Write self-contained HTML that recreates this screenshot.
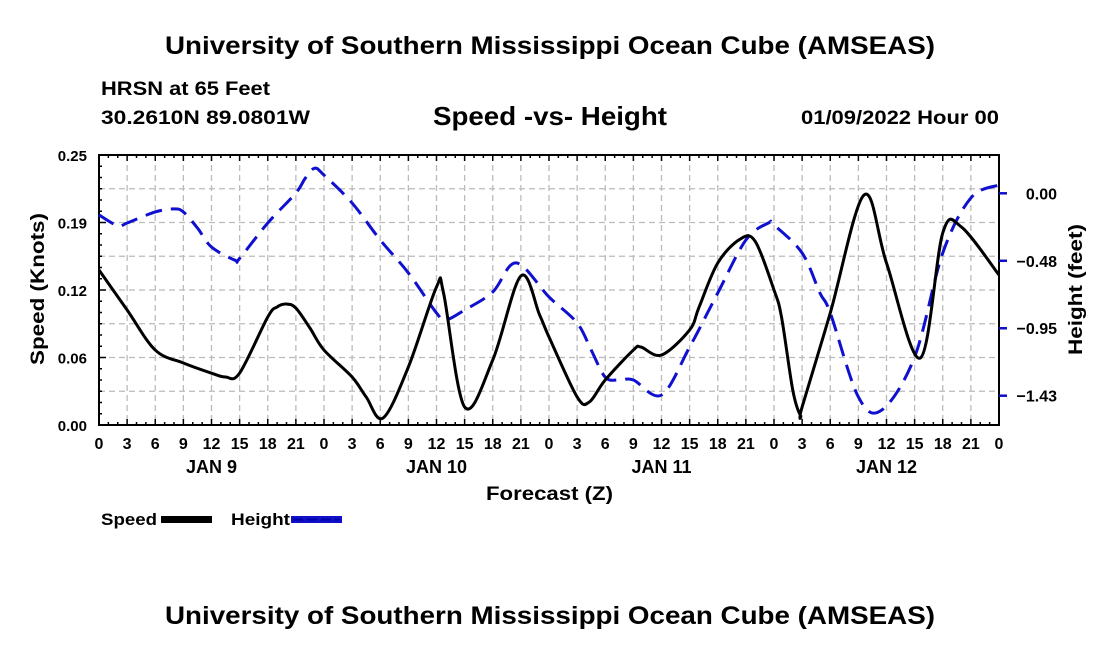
<!DOCTYPE html>
<html><head><meta charset="utf-8"><style>
body{margin:0;background:#fff;}
svg text{font-family:"Liberation Sans",Arial,sans-serif;font-weight:bold;fill:#000;}
</style></head><body>
<svg id="chart" width="1100" height="650" viewBox="0 0 1100 650" xmlns="http://www.w3.org/2000/svg">
<rect width="1100" height="650" fill="#fff"/>
<text x="165" y="54" font-size="25" textLength="770" lengthAdjust="spacingAndGlyphs">University of Southern Mississippi Ocean Cube (AMSEAS)</text>
<text x="101" y="95" font-size="19" textLength="169" lengthAdjust="spacingAndGlyphs">HRSN at 65 Feet</text>
<text x="101" y="124" font-size="19" textLength="209" lengthAdjust="spacingAndGlyphs">30.2610N  89.0801W</text>
<text x="433" y="125" font-size="26" textLength="234" lengthAdjust="spacingAndGlyphs">Speed -vs- Height</text>
<text x="801" y="124" font-size="19" textLength="198" lengthAdjust="spacingAndGlyphs">01/09/2022 Hour 00</text>
<g id="grid"></g>
<g id="axes"></g>
<g id="series"></g>
<text transform="translate(44,365) rotate(-90)" font-size="19" textLength="152" lengthAdjust="spacingAndGlyphs">Speed (Knots)</text>
<text transform="translate(1082,355) rotate(-90)" font-size="19" textLength="131" lengthAdjust="spacingAndGlyphs">Height (feet)</text>
<text x="486" y="500" font-size="19" textLength="127" lengthAdjust="spacingAndGlyphs">Forecast (Z)</text>
<g>
<text x="101" y="525" font-size="17" textLength="56" lengthAdjust="spacingAndGlyphs">Speed</text>
<rect x="161" y="516" width="51" height="7" fill="#000"/>
<text x="231" y="525" font-size="17" textLength="59" lengthAdjust="spacingAndGlyphs">Height</text>
<rect x="291" y="516" width="51" height="7" fill="#1010c8"/>
<line x1="293" y1="519.5" x2="340" y2="519.5" stroke="#0000aa" stroke-width="2" stroke-dasharray="10,4"/>
</g>
<text x="165" y="624" font-size="25" textLength="770" lengthAdjust="spacingAndGlyphs">University of Southern Mississippi Ocean Cube (AMSEAS)</text>
</svg>
<script>
const speedHours=[0,3,6,9,12,13.5,15,18,19,20,21,22.5,24,27,28.5,30.3,33,36,36.75,39,42,45,47,48,51,52.3,54,57,57.8,60,63,64,66,68.4,70,72,72.8,74,74.8,75,78,81.6,84,87.6,90,92,96];
const speedValues=[.1435,.1065,.0694,.0574,.048,.0444,.0481,.100,.1093,.1120,.1083,.0898,.0694,.0444,.0259,.0065,.0537,.1278,.1222,.0167,.0602,.138,.1019,.0815,.026,.0213,.0417,.0694,.0722,.0648,.088,.109,.150,.1722,.170,.125,.100,.0324,.0093,.0167,.1037,.2130,.150,.062,.1778,.1833,.1389];
const heightHours=[0,2,3,6,8,9,10.5,12,14.5,15,18,21,22,23,24,27,30,33,36,37,39,42,44.5,48,51,52.5,54,55.5,57,60,63,66,69,71.4,72,75,76.9,78,81,83.5,87,90,93,96];
const heightValues=[-0.153,-0.23,-0.21,-0.132,-0.11,-0.132,-0.245,-0.38,-0.473,-0.46,-0.21,0.002,0.107,0.177,0.129,-0.069,-0.33,-0.563,-0.846,-0.895,-0.825,-0.698,-0.492,-0.733,-0.917,-1.108,-1.3,-1.32,-1.32,-1.426,-1.087,-0.705,-0.33,-0.21,-0.224,-0.422,-0.705,-0.846,-1.440,-1.532,-1.157,-0.422,-0.033,0.059];
const xTickLabels=["0","3","6","9","12","15","18","21"];
const dayLabels=["JAN 9","JAN 10","JAN 11","JAN 12"];
const leftTickLabels=["0.00","0.06","0.12","0.19","0.25"];
const rightTickValues=[0,-0.477,-0.954,-1.431];
const rightTickLabels=["0.00","\u22120.48","\u22120.95","\u22121.43"];

const L=99,R=999,T=155,B=425;
const xS=h=>L+(R-L)*h/96;
const yS=v=>B-(B-T)*v/0.25;
const yH=v=>193.3-v/0.00707;
const NS="http://www.w3.org/2000/svg";
function mk(tag,attrs,parent){const e=document.createElementNS(NS,tag);for(const k in attrs)e.setAttribute(k,attrs[k]);parent.appendChild(e);return e;}
const grid=document.getElementById('grid'),axes=document.getElementById('axes'),series=document.getElementById('series');
for(let h=3;h<96;h+=3){const gl=mk('line',{x1:xS(h),x2:xS(h),y1:T,y2:B,stroke:'#bbb','stroke-width':1.3,'stroke-dasharray':'6,4'},grid);

}
for(let i=1;i<8;i++){const y=T+(B-T)*i/8;const gl=mk('line',{x1:L,x2:R,y1:y,y2:y,stroke:'#bbb','stroke-width':1.3,'stroke-dasharray':'6,4'},grid);

}
mk('rect',{x:L,y:T,width:R-L,height:B-T,fill:'none',stroke:'#000','stroke-width':2},axes);
for(let h=0;h<=96;h++){const len=h%3===0?6:3;
mk('line',{x1:xS(h),x2:xS(h),y1:B,y2:B-len,stroke:'#000','stroke-width':1.5},axes);
mk('line',{x1:xS(h),x2:xS(h),y1:T,y2:T+len,stroke:'#000','stroke-width':1.5},axes);}
for(let i=0;i<=24;i++){const y=T+(B-T)*i/24;const len=i%6===0?7:3;mk('line',{x1:L,x2:L+len,y1:y,y2:y,stroke:'#000','stroke-width':1.5},axes);}
for(let h=0;h<=96;h+=3){const t=mk('text',{x:xS(h),y:449,'font-size':16,'text-anchor':'middle'},axes);t.textContent=h%24===0?"0":xTickLabels[(h%24)/3];

}
dayLabels.forEach((d,i)=>{const t=mk('text',{x:xS(12+24*i),y:473,'font-size':18,'text-anchor':'middle'},axes);t.textContent=d;

});
leftTickLabels.forEach((s,i)=>{const t=mk('text',{x:87,y:B-(B-T)*i/4+6,'font-size':15,'text-anchor':'end'},axes);t.textContent=s;

});
rightTickValues.forEach((v,i)=>{const y=yH(v);mk('line',{x1:R,x2:R+8,y1:y,y2:y,stroke:'#1010c8','stroke-width':2.5},axes);
const t=mk('text',{x:1057,y:y+6,'font-size':16,'text-anchor':'end'},axes);t.textContent=rightTickLabels[i];

});
function pathFor(xs,ys){const p=xs.map((x,i)=>[x,ys[i]]);let d=`M${p[0][0]},${p[0][1]}`;
for(let i=0;i<p.length-1;i++){const p0=p[i-1]||p[i],p1=p[i],p2=p[i+1],p3=p[i+2]||p2;
const c1=[p1[0]+(p2[0]-p0[0])/6,p1[1]+(p2[1]-p0[1])/6],c2=[p2[0]-(p3[0]-p1[0])/6,p2[1]-(p3[1]-p1[1])/6];
d+=` C${c1[0]},${c1[1]} ${c2[0]},${c2[1]} ${p2[0]},${p2[1]}`;}return d;}
const hp=mk('path',{d:pathFor(heightHours.map(xS),heightValues.map(yH)),fill:'none',stroke:'#1010d0','stroke-width':3,'stroke-dasharray':'17,9'},series);


const sp=mk('path',{d:pathFor(speedHours.map(xS),speedValues.map(yS)),fill:'none',stroke:'#000','stroke-width':3,'stroke-linejoin':'round'},series);


</script>
</body></html>
